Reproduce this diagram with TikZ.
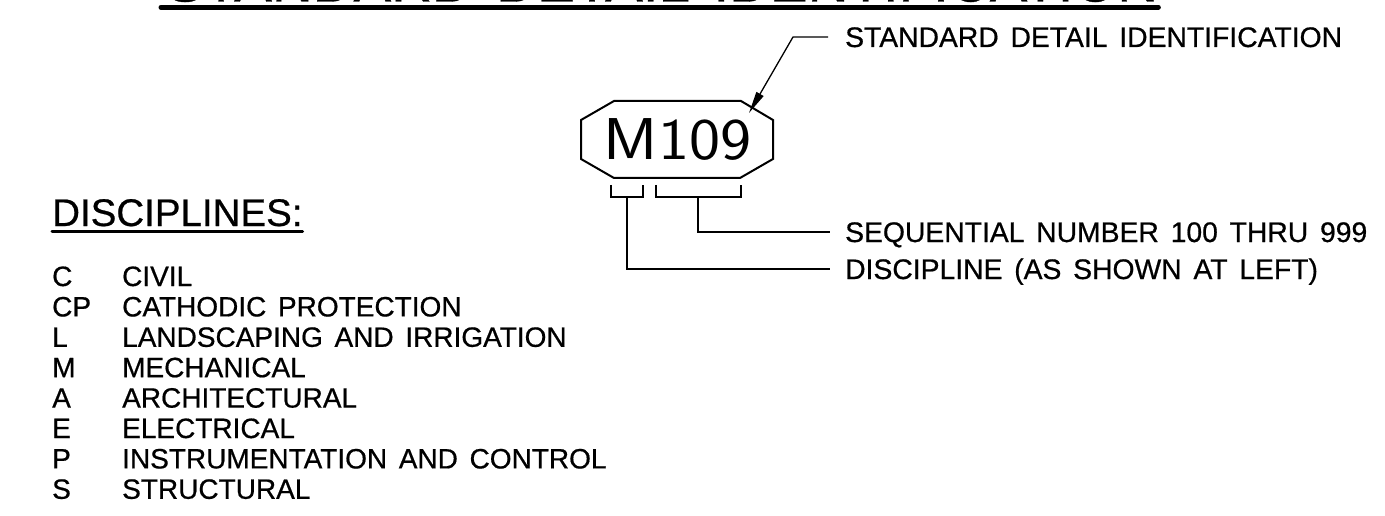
\documentclass[tikz,border=0pt]{standalone}
\usepackage{fontspec}
\setmainfont{Liberation Sans}[WordSpace=1.5, FakeBold=0.6]
\usetikzlibrary{arrows.meta}
\begin{document}
\begin{tikzpicture}[x=1pt,y=-1pt,
  lbl/.style={inner sep=0pt, anchor=west, text height=20pt, text depth=0pt, font=\fontsize{28.3}{30}\selectfont},
  item/.style={inner sep=0pt, anchor=base west, font=\fontsize{28}{30}\selectfont},
  leader/.style={line width=1.3pt},
  bracket/.style={line width=1.3pt},
  ulines/.style={line cap=round}]
\useasboundingbox (0,0) rectangle (1385,516);
\clip (0,0) rectangle (1385,516);

% title (cut off at top)
\node[inner sep=0pt, anchor=base west, text depth=0pt, font=\fontsize{56.5}{60}\selectfont] (title) at (166,1.5) {STANDARD DETAIL IDENTIFICATION};
\draw[ulines, line width=5pt] ([xshift=-5pt,yshift=-5.5pt]title.south west) -- ([xshift=0pt,yshift=-5.5pt]title.south east);

% identifier
\node[inner sep=0pt, anchor=base, font=\sffamily\fontsize{59}{60}\selectfont] (id) at (677.5,160) {\scalebox{1.12}[1]{M109}};
\draw[line width=2pt, line join=miter]
  (614,101) -- (741,101) -- (773,120) -- (773,159) -- (740,178) -- (614,178) -- (581,159) -- (581,120) -- cycle;

% labels on the right
\node[lbl] (sdi) at (845,37) {STANDARD DETAIL IDENTIFICATION};
\node[lbl] (seq) at (845,232) {SEQUENTIAL NUMBER 100 THRU 999};
\node[lbl] (dis) at (845,269) {DISCIPLINE (AS SHOWN AT LEFT)};

\coordinate (tip) at (749,113);
\draw[leader, -{Triangle[length=22pt,width=8pt]}] ([xshift=-17pt]sdi.west) -- ++(-35,0) -- (tip);

% brackets
\draw[bracket] (611,185) -- (611,197) -- (643,197) -- (643,185);
\draw[bracket] (656,185) -- (656,197) -- (741,197) -- (741,185);
\coordinate (dstem) at (627,197);
\coordinate (sstem) at (698,197);
\draw[leader] (sstem) |- ([xshift=-15pt]seq.west);
\draw[leader] (dstem) |- ([xshift=-15pt]dis.west);

% disciplines list
\node[inner sep=0pt, anchor=base west, font=\fontsize{38.5}{42}\selectfont] (disc) at (52,226) {DISCIPLINES:};
\draw[ulines, line width=3pt] ([yshift=-4.5pt]disc.south west) -- ([yshift=-4.5pt]disc.south east);

\node[item] (c1) at (52,286) {C};    \node[item] (d1) at (122,286) {CIVIL};
\node[item] (c2) at (52,316.4) {CP}; \node[item] (d2) at (122,316.4) {CATHODIC PROTECTION};
\node[item] (c3) at (52,346.8) {L};  \node[item] (d3) at (122,346.8) {LANDSCAPING AND IRRIGATION};
\node[item] (c4) at (52,377.2) {M};  \node[item] (d4) at (122,377.2) {MECHANICAL};
\node[item] (c5) at (52,407.6) {A};  \node[item] (d5) at (122,407.6) {ARCHITECTURAL};
\node[item] (c6) at (52,438) {E};    \node[item] (d6) at (122,438) {ELECTRICAL};
\node[item] (c7) at (52,468.4) {P};  \node[item] (d7) at (122,468.4) {INSTRUMENTATION AND CONTROL};
\node[item] (c8) at (52,498.8) {S};  \node[item] (d8) at (122,498.8) {STRUCTURAL};
\end{tikzpicture}
\end{document}
